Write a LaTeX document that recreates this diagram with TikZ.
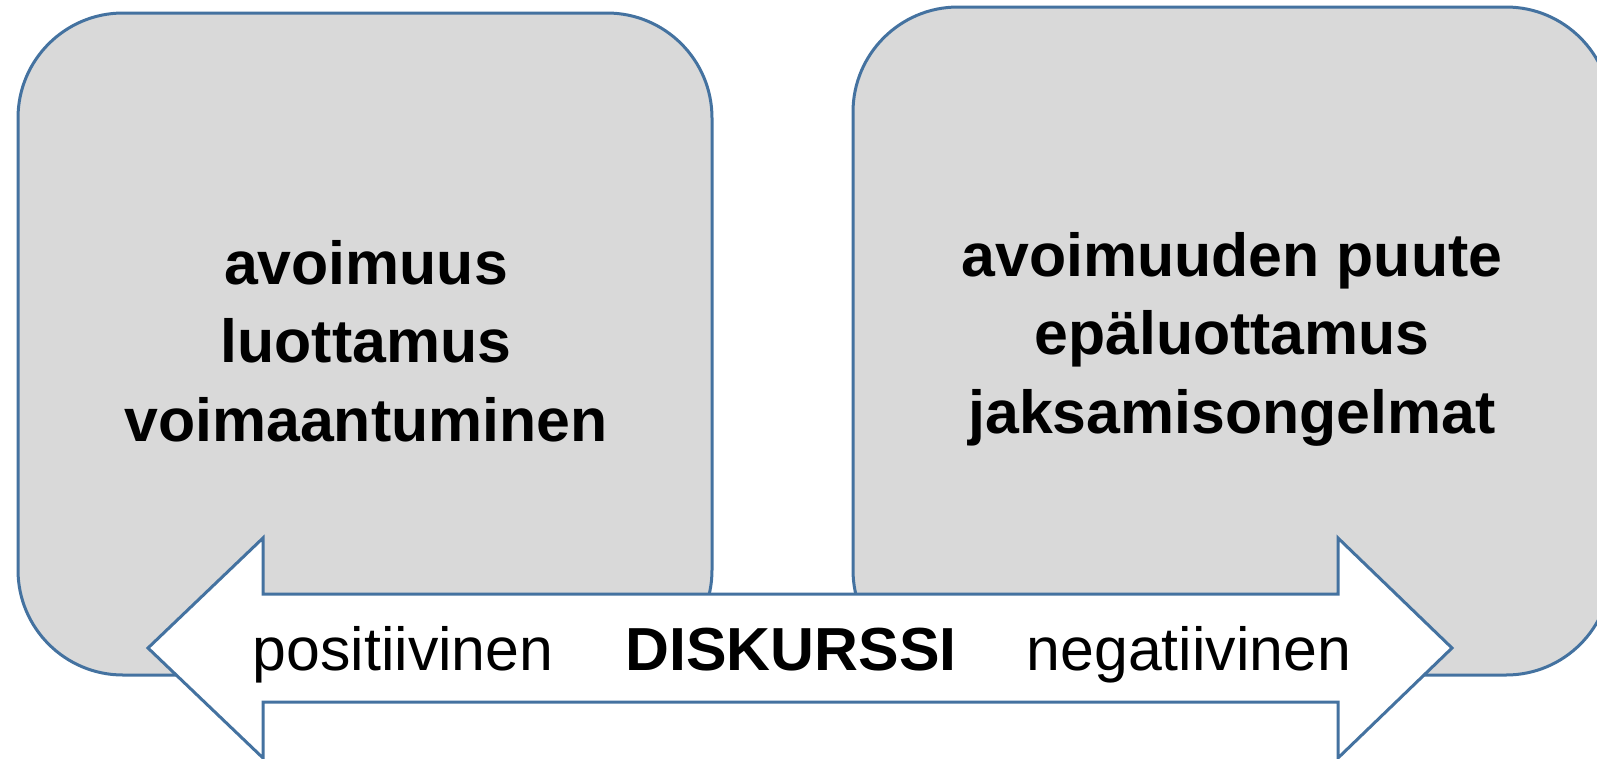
\documentclass[tikz,border=0pt]{standalone}
\usepackage{fontspec}
\setmainfont{Liberation Sans}
\definecolor{edgeblue}{RGB}{68,114,160}
\definecolor{boxgrey}{RGB}{217,217,217}
\tikzset{
  bigbox/.style={draw=edgeblue, line width=3pt, fill=boxgrey, rounded corners=105pt, inner sep=0pt},
  boxtext/.style={align=center, font=\fontsize{60.8}{78.5}\selectfont\bfseries, inner sep=0pt},
  arrowtext/.style={font=\fontsize{60.8}{72}\selectfont, inner sep=0pt, anchor=base},
}
\begin{document}
\begin{tikzpicture}[x=1pt,y=-1pt]
\useasboundingbox (0,0) rectangle (1597,758);
\clip (0,0) rectangle (1597,758);
\fill[white] (0,0) rectangle (1597,758);
\node[bigbox, minimum width=694pt, minimum height=662pt] (left) at (365,344) {};
\node[bigbox, minimum width=758pt, minimum height=668pt] (right) at (1232,341) {};
\node[boxtext] (lt) at (366,341) {avoimuus\\luottamus\\voimaantuminen};
\node[boxtext] (rt) at (1232,339) {avoimuuden puute\\epäluottamus\\jaksamisongelmat};
\draw[edgeblue, line width=3pt, fill=white, line join=miter]
  (148,648) -- (263,538) -- (263,594) -- (1338,594) -- (1338,538) -- (1452,648)
  -- (1338,758) -- (1338,702) -- (263,702) -- (263,758) -- cycle;
\node[arrowtext] (pos) at (403,670) {positiivinen};
\node[arrowtext, font=\fontsize{60.8}{72}\selectfont\bfseries] (disk) at (791,670) {DISKURSSI};
\node[arrowtext] (neg) at (1189,670) {negatiivinen};
\end{tikzpicture}
\end{document}
